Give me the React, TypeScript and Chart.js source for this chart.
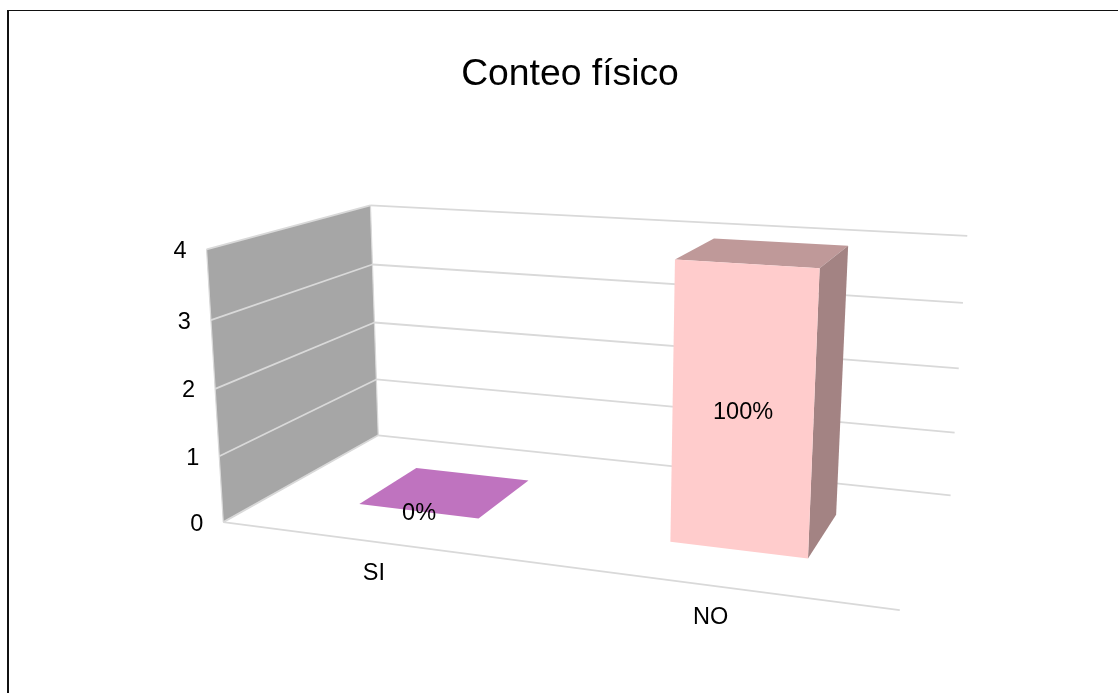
import { useEffect, useRef } from "react";
import { Chart, registerables } from "chart.js";

Chart.register(...registerables);

// Chart data
const categories = ["SI", "NO"];
const counts = [0, 4];
const percentLabels = ["0%", "100%"];
const barColors = ["#ff99ff", "#ffcccc"];
const chartTitle = "Conteo físico";

// Camera calibration: box coordinates [u, v, w] (across, up, into the scene) and where they land on the page.
const boxCorners = [
  [0, 0, 0], [0, 0.25, 0], [0, 0.5, 0], [0, 0.75, 0], [0, 1, 0],
  [0, 0, 1], [0, 0.25, 1], [0, 0.5, 1], [0, 0.75, 1], [0, 1, 1],
  [1, 0, 1], [1, 0.25, 1], [1, 0.5, 1], [1, 0.75, 1], [1, 1, 1],
  [1, 0, 0],
];
const pageCorners = [
  [223, 522], [219, 456], [215, 389], [211, 320], [207, 250],
  [378, 435], [377, 380], [375, 323], [372, 264], [370, 205],
  [950, 495], [955, 433], [959, 369], [963, 302], [967, 236],
  [900, 610],
];

const BAR_FRONT = 0.29;
const BAR_BACK = 0.69;
const TEXT_FONT = "23.5px 'Liberation Sans', Arial, sans-serif";

// Least-squares fit of the 11 projective camera parameters.
function fitCamera(): number[] {
  const n = 11;
  const A: number[][] = Array.from({ length: n }, () => new Array(n + 1).fill(0));
  const addRow = (row: number[], rhs: number) => {
    for (let i = 0; i < n; i++) {
      for (let j = 0; j < n; j++) A[i][j] += row[i] * row[j];
      A[i][n] += row[i] * rhs;
    }
  };
  boxCorners.forEach(([u, v, w], k) => {
    const X = pageCorners[k][0] / 1000;
    const Y = pageCorners[k][1] / 1000;
    addRow([u, v, w, 1, 0, 0, 0, 0, -X * u, -X * v, -X * w], X);
    addRow([0, 0, 0, 0, u, v, w, 1, -Y * u, -Y * v, -Y * w], Y);
  });
  for (let c = 0; c < n; c++) {
    let pivot = c;
    for (let r = c + 1; r < n; r++) if (Math.abs(A[r][c]) > Math.abs(A[pivot][c])) pivot = r;
    [A[c], A[pivot]] = [A[pivot], A[c]];
    for (let r = 0; r < n; r++) {
      if (r === c) continue;
      const f = A[r][c] / A[c][c];
      for (let k = c; k <= n; k++) A[r][k] -= f * A[c][k];
    }
  }
  return A.map((row, i) => row[n] / row[i]);
}

const camera = fitCamera();

function project(u: number, v: number, w: number): [number, number] {
  const p = camera;
  const d = p[8] * u + p[9] * v + p[10] * w + 1;
  return [
    (1000 * (p[0] * u + p[1] * v + p[2] * w + p[3])) / d,
    (1000 * (p[4] * u + p[5] * v + p[6] * w + p[7])) / d,
  ];
}

function shade(hex: string, f: number): string {
  const n = parseInt(hex.slice(1), 16);
  return `rgb(${((n >> 16) & 255) * f},${((n >> 8) & 255) * f},${(n & 255) * f})`;
}

function polygon(ctx: CanvasRenderingContext2D, pts: [number, number][], fill: string) {
  ctx.beginPath();
  pts.forEach(([x, y], i) => (i ? ctx.lineTo(x, y) : ctx.moveTo(x, y)));
  ctx.closePath();
  ctx.fillStyle = fill;
  ctx.fill();
}

function segment(ctx: CanvasRenderingContext2D, a: [number, number], b: [number, number], width = 1.8) {
  ctx.beginPath();
  ctx.moveTo(a[0], a[1]);
  ctx.lineTo(b[0], b[1]);
  ctx.lineWidth = width;
  ctx.strokeStyle = "#d9d9d9";
  ctx.stroke();
}

// Paints the chart in perspective from the scales and bar elements Chart.js has laid out.
const perspectivePlugin = {
  id: "perspective",
  beforeDatasetsDraw(chart: any) {
    const { ctx, chartArea: area, scales } = chart;
    const toU = (x: number) => (x - area.left) / (area.right - area.left);
    const toV = (y: number) => (area.bottom - y) / (area.bottom - area.top);
    const yScale = scales.y;
    const xScale = scales.x;

    ctx.save();

    // Side wall
    polygon(ctx, [project(0, 0, 0), project(0, 1, 0), project(0, 1, 1), project(0, 0, 1)], "#a6a6a6");

    // Gridlines across the side wall and back wall, one per tick
    yScale.ticks.forEach((tick: any) => {
      const v = toV(yScale.getPixelForValue(tick.value));
      segment(ctx, project(0, v, 0), project(0, v, 1));
      segment(ctx, project(0, v, 1), project(1, v, 1));
    });
    segment(ctx, project(0, 0, 0), project(1, 0, 0));
    segment(ctx, project(0, 0, 0), project(0, 1, 0), 1.2);
    segment(ctx, project(0, 0, 1), project(0, 1, 1), 1.2);

    // Bars as boxes
    const bars = chart.getDatasetMeta(0).data;
    bars.forEach((bar: any) => {
      const u0 = toU(bar.x - bar.width / 2);
      const u1 = toU(bar.x + bar.width / 2);
      const v0 = toV(bar.base);
      const v1 = toV(bar.y);
      const color = bar.options.backgroundColor;
      polygon(ctx, [project(u0, v1, BAR_FRONT), project(u1, v1, BAR_FRONT), project(u1, v1, BAR_BACK), project(u0, v1, BAR_BACK)], shade(color, 0.75));
      if (v1 > v0) {
        polygon(ctx, [project(u1, v0, BAR_FRONT), project(u1, v1, BAR_FRONT), project(u1, v1, BAR_BACK), project(u1, v0, BAR_BACK)], shade(color, 0.64));
        polygon(ctx, [project(u0, v0, BAR_FRONT), project(u0, v1, BAR_FRONT), project(u1, v1, BAR_FRONT), project(u1, v0, BAR_FRONT)], color);
      }
    });

    // Text
    ctx.fillStyle = "#000";
    ctx.font = TEXT_FONT;
    ctx.textBaseline = "middle";

    ctx.textAlign = "right";
    yScale.ticks.forEach((tick: any) => {
      const [x, y] = project(0, toV(yScale.getPixelForValue(tick.value)), 0);
      ctx.fillText(String(tick.value), x - 20, y + 2);
    });

    ctx.textAlign = "center";
    categories.forEach((label, i) => {
      const [x, y] = project(toU(xScale.getPixelForValue(i)), 0, 0);
      ctx.fillText(label, x, y + 32);
    });

    bars.forEach((bar: any, i: number) => {
      const [x, y] = project(toU(bar.x), (toV(bar.base) + toV(bar.y)) / 2, BAR_FRONT);
      ctx.fillText(percentLabels[i], x + 1, y + 2);
    });

    ctx.restore();
    return false;
  },
};

export default function App() {
  const ref = useRef<HTMLCanvasElement>(null);

  useEffect(() => {
    const chart = new Chart(ref.current!, {
      type: "bar",
      data: {
        labels: categories,
        datasets: [{ data: counts, backgroundColor: barColors, barPercentage: 0.4, categoryPercentage: 1 }],
      },
      options: {
        animation: false,
        responsive: false,
        layout: { padding: { left: 100, right: 78, bottom: 60 } },
        scales: {
          x: { display: false },
          y: { display: false, min: 0, max: 4, ticks: { stepSize: 1 } },
        },
        plugins: {
          legend: { display: false },
          tooltip: { enabled: false },
          title: {
            display: true,
            text: chartTitle,
            fullSize: false,
            color: "#000",
            font: { family: "'Liberation Sans', Arial, sans-serif", size: 37.3, weight: "normal" },
            padding: { top: 52, bottom: 10 },
          },
        },
      },
      plugins: [perspectivePlugin],
    } as any);
    return () => chart.destroy();
  }, []);

  return (
    <div style={{ position: "fixed", left: 0, top: 0, width: 1118, height: 693, overflow: "hidden", background: "#fff" }}>
      <canvas ref={ref} width={1118} height={693} style={{ position: "absolute", left: 0, top: 0 }} />
      <div style={{ position: "absolute", left: 7, top: 10, width: 1200, height: 800, borderLeft: "2px solid #111", borderTop: "1px solid #111" }} />
    </div>
  );
}
